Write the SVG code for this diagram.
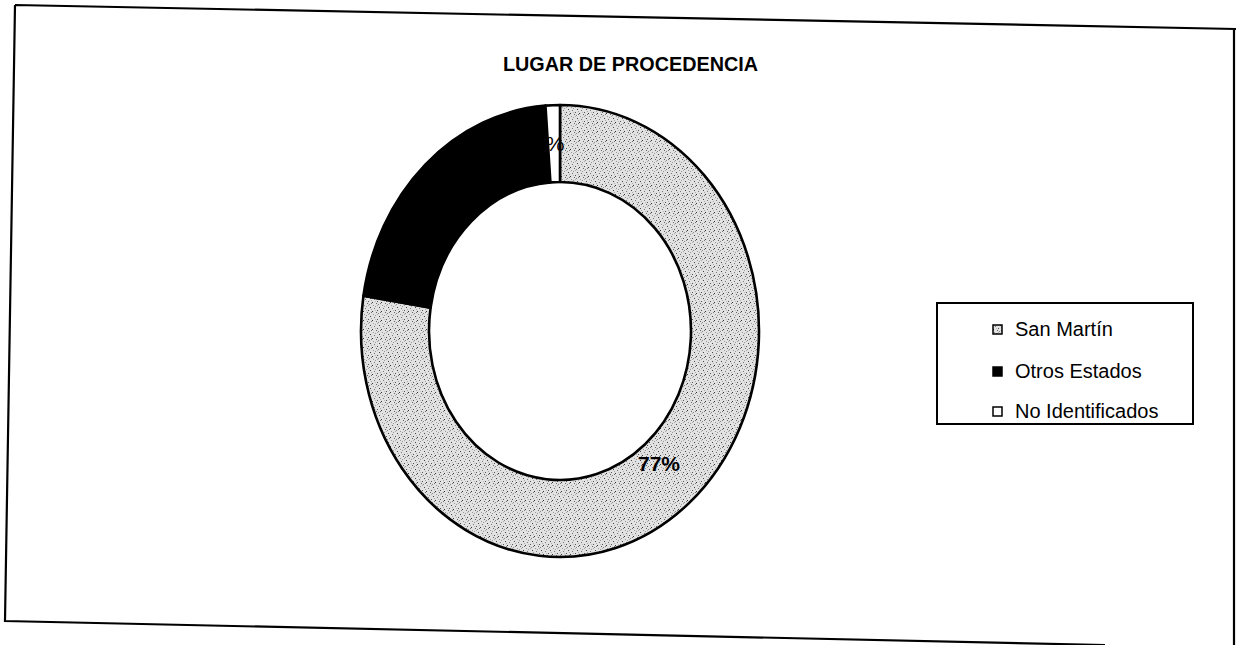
<svg xmlns="http://www.w3.org/2000/svg" width="1236" height="645" viewBox="0 0 1236 645">
<style>
.frame{fill:none;stroke:#000;stroke-width:2.2}
.seg{stroke:#000;stroke-width:2.6;stroke-linejoin:round}
.t{font-family:"Liberation Sans",Arial,sans-serif;fill:#000}
.title{font-size:20px;font-weight:bold}
.leg{font-size:20px}
.lab{font-size:21px}
</style>
<defs>
<pattern id="speck" width="9" height="9" patternUnits="userSpaceOnUse">
<rect width="9" height="9" fill="#e2e2e2"/>
<rect x="1" y="1" width="1" height="1" fill="#444"/>
<rect x="5" y="2" width="1" height="1" fill="#777"/>
<rect x="3" y="5" width="1" height="1" fill="#333"/>
<rect x="7" y="6" width="1" height="1" fill="#666"/>
<rect x="0" y="7" width="1" height="1" fill="#888"/>
<rect x="6" y="0" width="1" height="1" fill="#999"/>
<rect x="2" y="3" width="1" height="1" fill="#aaa"/>
<rect x="8" y="4" width="1" height="1" fill="#555"/>
<rect x="4" y="8" width="1" height="1" fill="#999"/>
<rect x="6" y="4" width="1" height="1" fill="#bbb"/>
<rect x="2" y="6" width="1" height="1" fill="#777"/>
<rect x="8" y="8" width="1" height="1" fill="#aaa"/>
</pattern>
</defs>
<rect width="1236" height="645" fill="#fff"/>
<g id="frame">
<path class="frame" d="M15,5 L1236,29 M15,5 L5,621 L1105,645 M1234,30 L1234,645"/>
</g>
<g id="title">
<text class="t title" x="503" y="71" textLength="255" lengthAdjust="spacingAndGlyphs">LUGAR DE PROCEDENCIA</text>
</g>
<g id="chart">
<g id="san-martin">
<path class="seg" fill="url(#speck)" d="M560,105 A199,226 0 1 1 363.45,295.65 L430.61,307.69 A131,149 0 1 0 560,182 Z"/>
</g>
<g id="otros-estados">
<path class="seg" fill="#000" d="M363.45,295.65 A199,226 0 0 1 545.43,105.61 L550.41,182.4 A131,149 0 0 0 430.61,307.69 Z"/>
</g>
<g id="no-identificados">
<path class="seg" fill="#fff" d="M545.43,105.61 A199,226 0 0 1 560,105 L560,182 A131,149 0 0 0 550.41,182.4 Z"/>
</g>
</g>
<g id="labels">
<text class="t lab" x="534" y="151">2%</text>
<text class="t lab" x="638" y="471" font-weight="bold">77%</text>
</g>
<g id="legend">
<rect x="937" y="303" width="256" height="121" fill="#fff" stroke="#000" stroke-width="2"/>
<rect x="993" y="325" width="9" height="9" fill="url(#speck)" stroke="#000" stroke-width="1.5"/>
<text class="t leg" x="1015" y="336">San Martín</text>
<rect x="993" y="367" width="9" height="9" fill="#000" stroke="#000" stroke-width="1.5"/>
<text class="t leg" x="1015" y="378">Otros Estados</text>
<rect x="993" y="407" width="9" height="9" fill="#fff" stroke="#000" stroke-width="1.5"/>
<text class="t leg" x="1015" y="418">No Identificados</text>
</g>
</svg>
